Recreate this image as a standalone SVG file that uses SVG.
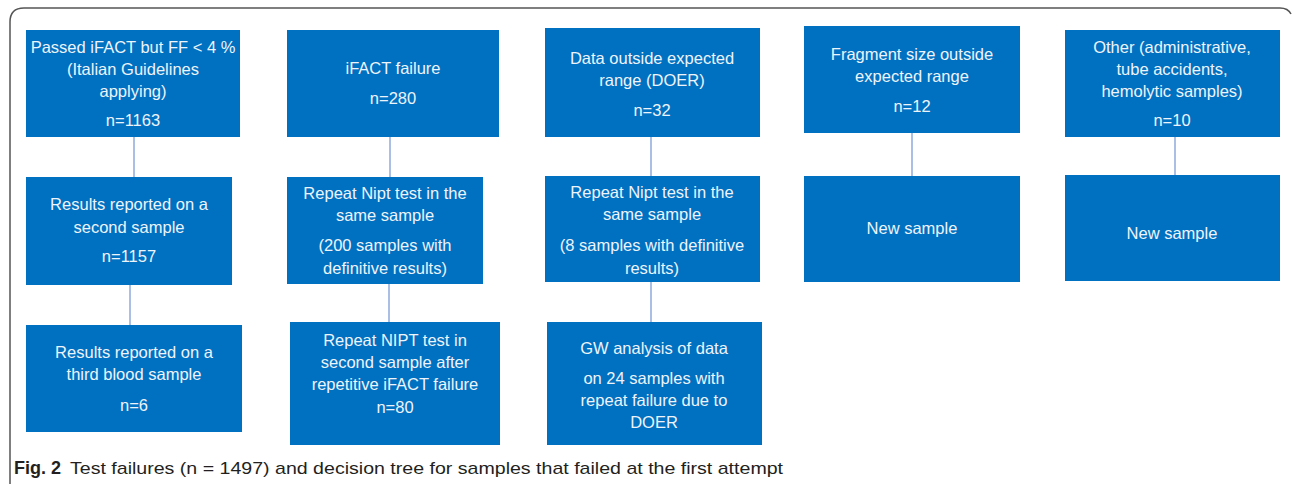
<svg xmlns="http://www.w3.org/2000/svg" width="1292" height="484" viewBox="0 0 1292 484">
  <style>
    .box { fill: #0070c0; }
    .lbl { font-family: "Liberation Sans", Arial, sans-serif; font-size: 16.5px; fill: #eef4fb; text-anchor: middle; }
    .link { stroke: #8eaadb; stroke-width: 1.5; fill: none; }
    .frame { stroke: #555; stroke-width: 1.5; fill: none; }
    .cap { font-family: "Liberation Sans", Arial, sans-serif; font-size: 17px; fill: #231f20; }
  </style>

  <rect width="1292" height="484" fill="#fff"/>

  <!-- figure frame: left and top edges with rounded corners -->
  <path class="frame" d="M10,484 V22 Q10,8 24,8 H1280 Q1288,8 1291,14"/>

  <!-- connectors -->
  <g id="connectors">
    <line class="link" x1="134" y1="137" x2="134" y2="177"/>
    <line class="link" x1="130" y1="285" x2="130" y2="325"/>
    <line class="link" x1="390" y1="137" x2="390" y2="177"/>
    <line class="link" x1="389" y1="284" x2="389" y2="322"/>
    <line class="link" x1="651" y1="137" x2="651" y2="176"/>
    <line class="link" x1="651" y1="282" x2="651" y2="322"/>
    <line class="link" x1="912" y1="133" x2="912" y2="176"/>
    <line class="link" x1="1175" y1="137" x2="1175" y2="175"/>
  </g>

  <!-- column 1 -->
  <g id="ff-low">
    <rect class="box" x="26" y="30" width="214" height="107"/>
    <text class="lbl" x="133" y="53">Passed iFACT but FF &lt; 4 %</text>
    <text class="lbl" x="133" y="75">(Italian Guidelines</text>
    <text class="lbl" x="133" y="97">applying)</text>
    <text class="lbl" x="133" y="126">n=1163</text>
  </g>
  <g id="second-sample">
    <rect class="box" x="26" y="177" width="206" height="108"/>
    <text class="lbl" x="129" y="210">Results reported on a</text>
    <text class="lbl" x="129" y="233">second sample</text>
    <text class="lbl" x="129" y="262">n=1157</text>
  </g>
  <g id="third-sample">
    <rect class="box" x="26" y="325" width="216" height="107"/>
    <text class="lbl" x="134" y="358">Results reported on a</text>
    <text class="lbl" x="134" y="380">third blood sample</text>
    <text class="lbl" x="134" y="411">n=6</text>
  </g>

  <!-- column 2 -->
  <g id="ifact-failure">
    <rect class="box" x="287" y="30" width="212" height="107"/>
    <text class="lbl" x="393" y="74">iFACT failure</text>
    <text class="lbl" x="393" y="104">n=280</text>
  </g>
  <g id="repeat-same-1">
    <rect class="box" x="287" y="177" width="196" height="107"/>
    <text class="lbl" x="385" y="199">Repeat Nipt test in the</text>
    <text class="lbl" x="385" y="221">same sample</text>
    <text class="lbl" x="385" y="251">(200 samples with</text>
    <text class="lbl" x="385" y="274">definitive results)</text>
  </g>
  <g id="repeat-second">
    <rect class="box" x="290" y="322" width="210" height="123"/>
    <text class="lbl" x="395" y="346">Repeat NIPT test in</text>
    <text class="lbl" x="395" y="368">second sample after</text>
    <text class="lbl" x="395" y="390">repetitive iFACT failure</text>
    <text class="lbl" x="395" y="413">n=80</text>
  </g>

  <!-- column 3 -->
  <g id="doer">
    <rect class="box" x="545" y="28" width="215" height="109"/>
    <text class="lbl" x="652" y="64">Data outside expected</text>
    <text class="lbl" x="652" y="86">range (DOER)</text>
    <text class="lbl" x="652" y="116">n=32</text>
  </g>
  <g id="repeat-same-2">
    <rect class="box" x="545" y="176" width="215" height="106"/>
    <text class="lbl" x="652" y="198">Repeat Nipt test in the</text>
    <text class="lbl" x="652" y="220">same sample</text>
    <text class="lbl" x="652" y="251">(8 samples with definitive</text>
    <text class="lbl" x="652" y="274">results)</text>
  </g>
  <g id="gw-analysis">
    <rect class="box" x="547" y="322" width="215" height="123"/>
    <text class="lbl" x="654" y="354">GW analysis of data</text>
    <text class="lbl" x="654" y="384">on 24 samples with</text>
    <text class="lbl" x="654" y="406">repeat failure due to</text>
    <text class="lbl" x="654" y="428">DOER</text>
  </g>

  <!-- column 4 -->
  <g id="fragment-size">
    <rect class="box" x="804" y="26" width="216" height="107"/>
    <text class="lbl" x="912" y="60">Fragment size outside</text>
    <text class="lbl" x="912" y="82">expected range</text>
    <text class="lbl" x="912" y="112">n=12</text>
  </g>
  <g id="new-sample-1">
    <rect class="box" x="804" y="176" width="216" height="106"/>
    <text class="lbl" x="912" y="234">New sample</text>
  </g>

  <!-- column 5 -->
  <g id="other">
    <rect class="box" x="1065" y="30" width="215" height="107"/>
    <text class="lbl" x="1172" y="53">Other (administrative,</text>
    <text class="lbl" x="1172" y="75">tube  accidents,</text>
    <text class="lbl" x="1172" y="97">hemolytic samples)</text>
    <text class="lbl" x="1172" y="126">n=10</text>
  </g>
  <g id="new-sample-2">
    <rect class="box" x="1065" y="175" width="215" height="106"/>
    <text class="lbl" x="1172" y="239">New sample</text>
  </g>

  <!-- caption -->
  <text class="cap" x="14" y="474"><tspan font-weight="bold" font-size="18">Fig. 2</tspan><tspan x="70" textLength="713" lengthAdjust="spacingAndGlyphs">Test failures (n = 1497) and decision tree for samples that failed at the first attempt</tspan></text>
</svg>
